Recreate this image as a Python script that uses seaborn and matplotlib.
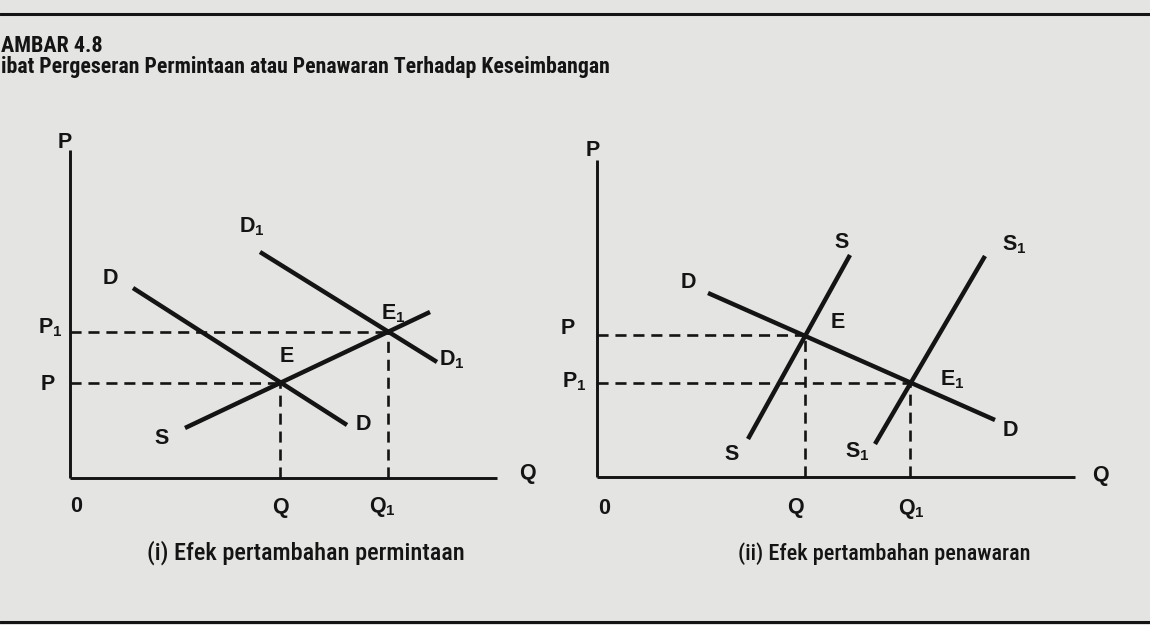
import matplotlib
matplotlib.use("Agg")
import matplotlib.pyplot as plt
from matplotlib import font_manager as fm
from matplotlib.lines import Line2D
import pandas as pd
import seaborn as sns

# ---- Panel (i): demand shifts from D to D1 along a fixed supply curve S ----
dem_D_q = [6.3, 27.7]
dem_D_p = [19.0, 5.3]
dem_D1_q = [19.0, 36.7]
dem_D1_p = [22.6, 11.6]
dem_S_q = [11.5, 36.0]
dem_S_p = [5.0, 16.6]
dem_E = (21.0, 9.5)
dem_E1 = (31.8, 14.6)

# ---- Panel (ii): supply shifts from S to S1 along a fixed demand curve D ----
sup_D_q = [11.1, 39.8]
sup_D_p = [18.4, 5.7]
sup_S_q = [15.1, 25.3]
sup_S_p = [3.8, 22.2]
sup_S1_q = [27.8, 38.8]
sup_S1_p = [3.3, 22.1]
sup_E = (20.8, 14.2)
sup_E1 = (31.3, 9.4)

title_top = "AMBAR 4.8"
title_sub = "ibat Pergeseran Permintaan atau Penawaran Terhadap Keseimbangan"
caption_i = "(i) Efek pertambahan permintaan"
caption_ii = "(ii) Efek pertambahan penawaran"

PAPER = "#e4e4e2"
INK = "#141414"

sns.set_style("white")
plt.rcParams["font.family"] = ["Liberation Sans", "DejaVu Sans"]
plt.rcParams["mathtext.fontset"] = "custom"
plt.rcParams["mathtext.rm"] = "Liberation Sans"
plt.rcParams["mathtext.bf"] = "Liberation Sans:bold"

installed = {f.name for f in fm.fontManager.ttflist}
narrow = next((n for n in ["Liberation Sans Narrow", "Roboto Condensed", "Liberation Sans"]
               if n in installed), "DejaVu Sans")

W, H = 1150, 625
fig = plt.figure(figsize=(W / 100, H / 100), dpi=100, facecolor=PAPER)


def px_axes(x0, y_top, x1, y_bot):
    ax = fig.add_axes([x0 / W, 1 - y_bot / H, (x1 - x0) / W, (y_bot - y_top) / H])
    ax.set_facecolor("none")
    for side in ("top", "right"):
        ax.spines[side].set_visible(False)
    for side in ("left", "bottom"):
        ax.spines[side].set_color(INK)
        ax.spines[side].set_linewidth(2.1)
        ax.spines[side].set_capstyle("butt")
    ax.set_xticks([])
    ax.set_yticks([])
    return ax


def curve(ax, q, p):
    df = pd.DataFrame({"Q": q, "P": p})
    sns.lineplot(data=df, x="Q", y="P", ax=ax, color=INK, lw=3.2,
                 estimator=None, sort=False, solid_capstyle="butt")


def guides(ax, point):
    q, p = point
    h = pd.DataFrame({"Q": [0, q], "P": [p, p]})
    v = pd.DataFrame({"Q": [q, q], "P": [0, p]})
    for df in (h, v):
        sns.lineplot(data=df, x="Q", y="P", ax=ax, color=INK, lw=1.9,
                     estimator=None, sort=False,
                     linestyle=(0, (4.2, 2.6)), dash_capstyle="butt")


def label(ax, x, y, s, ha="center", va="center"):
    ax.text(x, y, s, ha=ha, va=va, fontsize=15.5, fontweight="bold",
            color=INK, clip_on=False)


# ---------------- Panel (i) ----------------
ax1 = px_axes(70, 150, 497, 478)
guides(ax1, dem_E)
guides(ax1, dem_E1)
curve(ax1, dem_D_q, dem_D_p)
curve(ax1, dem_D1_q, dem_D1_p)
curve(ax1, dem_S_q, dem_S_p)
ax1.set_xlim(0, 42.7)
ax1.set_ylim(0, 32.8)
ax1.set_xlabel("")
ax1.set_ylabel("")

label(ax1, -0.5, 33.6, "P")
label(ax1, -2.0, 15.0, r"P$_\mathbf{1}$")
label(ax1, -2.2, 9.3, "P")
label(ax1, 4.0, 20.0, "D")
label(ax1, 18.2, 25.1, r"D$_\mathbf{1}$")
label(ax1, 21.7, 12.1, "E")
label(ax1, 32.3, 16.4, r"E$_\mathbf{1}$")
label(ax1, 38.2, 11.8, r"D$_\mathbf{1}$")
label(ax1, 29.3, 5.3, "D")
label(ax1, 9.2, 4.0, "S")
label(ax1, 0.6, -2.9, "0")
label(ax1, 21.0, -2.9, "Q")
label(ax1, 31.2, -2.9, r"Q$_\mathbf{1}$")
label(ax1, 45.7, 0.5, "Q")

# ---------------- Panel (ii) ----------------
ax2 = px_axes(597, 160, 1075, 477)
guides(ax2, sup_E)
guides(ax2, sup_E1)
curve(ax2, sup_D_q, sup_D_p)
curve(ax2, sup_S_q, sup_S_p)
curve(ax2, sup_S1_q, sup_S1_p)
ax2.set_xlim(0, 47.8)
ax2.set_ylim(0, 31.7)
ax2.set_xlabel("")
ax2.set_ylabel("")

label(ax2, -0.4, 32.7, "P")
label(ax2, -2.9, 14.9, "P")
label(ax2, -2.3, 9.5, r"P$_\mathbf{1}$")
label(ax2, 9.1, 19.5, "D")
label(ax2, 24.5, 23.5, "S")
label(ax2, 41.7, 23.2, r"S$_\mathbf{1}$")
label(ax2, 24.1, 15.5, "E")
label(ax2, 35.5, 9.7, r"E$_\mathbf{1}$")
label(ax2, 41.3, 4.7, "D")
label(ax2, 13.5, 2.2, "S")
label(ax2, 26.0, 2.5, r"S$_\mathbf{1}$")
label(ax2, 0.7, -3.1, "0")
label(ax2, 19.8, -3.1, "Q")
label(ax2, 31.4, -3.2, r"Q$_\mathbf{1}$")
label(ax2, 50.3, 0.2, "Q")

# ---------------- Heading, captions and page rules ----------------
head_font = [narrow, "Liberation Sans", "DejaVu Sans"]
t_top = fig.text(1 / W, 1 - 52 / H, title_top, ha="left", va="baseline",
                 fontsize=15, fontweight="bold", family=head_font, color=INK)
t_sub = fig.text(1 / W, 1 - 73 / H, title_sub, ha="left", va="baseline",
                 fontsize=14, fontweight="bold", family=head_font, color=INK)
c1 = fig.text(306 / W, 1 - 560 / H, caption_i, ha="center", va="baseline",
              fontsize=15, fontweight="medium", family=head_font, color=INK)
c2 = fig.text(884 / W, 1 - 560 / H, caption_ii, ha="center", va="baseline",
              fontsize=15, fontweight="medium", family=head_font, color=INK)

fig.canvas.draw()
rend = fig.canvas.get_renderer()
for txt, target in ((t_top, 102), (t_sub, 610), (c1, 318), (c2, 293)):
    width = txt.get_window_extent(rend).width
    txt.set_fontsize(txt.get_fontsize() * target / width)

fig.add_artist(Line2D([0, 1], [1 - 14 / H, 1 - 14 / H], color=INK, lw=2.2))
fig.add_artist(Line2D([0, 1], [1 - 622 / H, 1 - 622 / H], color=INK, lw=2.2))

fig.savefig("out.png", dpi=100, facecolor=PAPER)
